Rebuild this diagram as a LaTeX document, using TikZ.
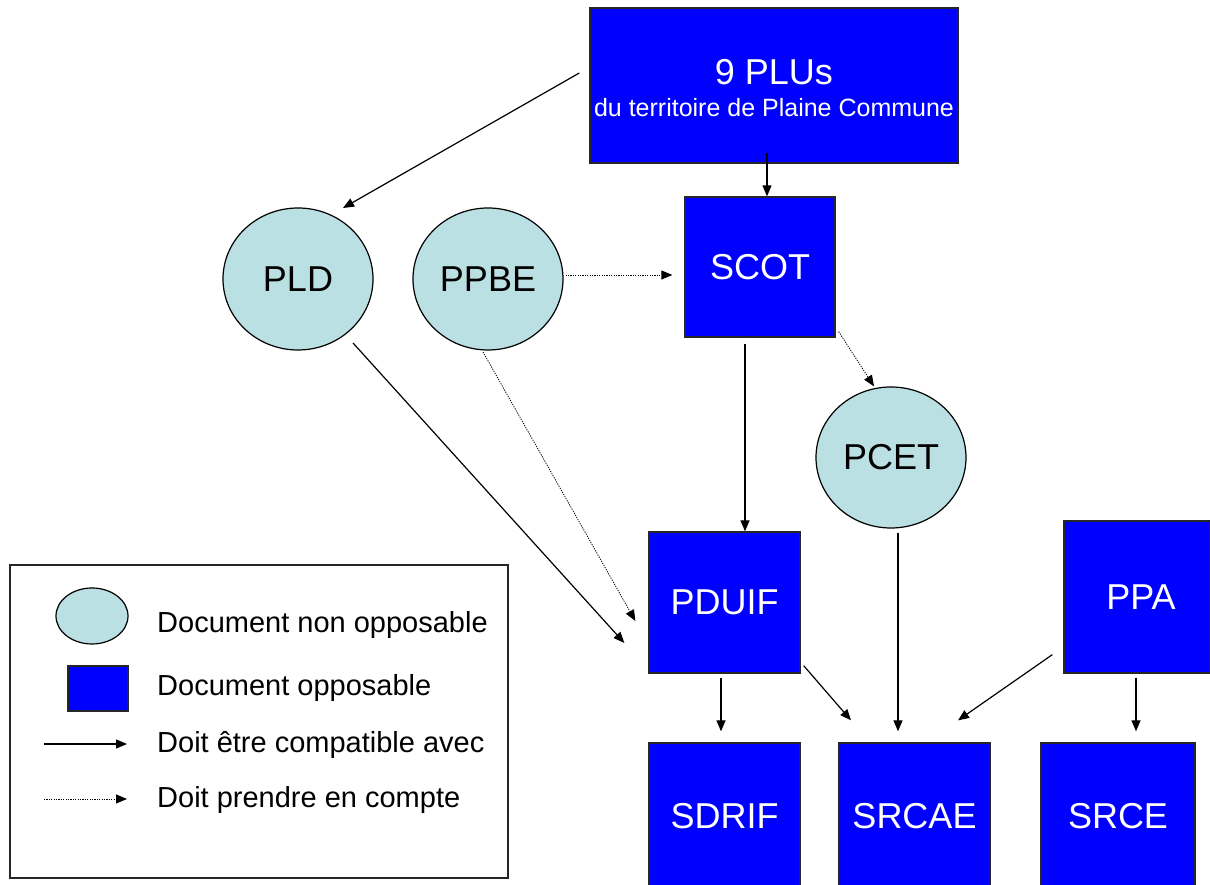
\documentclass[tikz,border=0pt]{standalone}
\usepackage{fontspec}
\setmainfont{Liberation Sans}
\usetikzlibrary{arrows.meta,shapes.geometric}
\definecolor{oppblue}{RGB}{0,0,255}
\definecolor{nonopp}{RGB}{187,224,227}
\begin{document}
\begin{tikzpicture}[x=1pt,y=1pt,
  oppbox/.style={draw=black!85,line width=1.3pt,fill=oppblue,text=white,inner sep=0pt,font=\fontsize{36}{40}\selectfont},
  nonell/.style={ellipse,draw=black,line width=1.2pt,fill=nonopp,inner sep=0pt,font=\fontsize{36}{40}\selectfont},
  arr/.style={line width=1.2pt,-{Triangle[length=11pt,width=9pt]}},
  darr/.style={line width=0.8pt,dash pattern=on 1.2pt off 1.2pt,-{Triangle[length=11pt,width=9pt]}},
  legtext/.style={anchor=base west,inner sep=0pt,font=\fontsize{29}{32}\selectfont}]
\useasboundingbox[fill=white] (0,0) rectangle (1210,885);
% main nodes
\node[oppbox,minimum width=368pt,minimum height=155pt,align=center] (plus) at (774,799.5)
  {\rule{0pt}{31pt}9 PLUs\\[-8pt]{\fontsize{25}{28}\selectfont du territoire de Plaine Commune}};
\node[oppbox,minimum width=150pt,minimum height=140pt] (scot) at (760,618) {SCOT};
\node[nonell,minimum width=150pt,minimum height=142pt] (pld) at (298,606) {PLD};
\node[nonell,minimum width=150pt,minimum height=142pt] (ppbe) at (488,606) {PPBE};
\node[nonell,minimum width=150pt,minimum height=141pt] (pcet) at (891,427.5) {PCET};
\node[oppbox,minimum width=151pt,minimum height=141pt] (pduif) at (724.5,282.5) {PDUIF};
\node[oppbox,minimum width=146pt,minimum height=152pt] (ppa) at (1137,288) {\hspace{8pt}PPA};
\node[oppbox,minimum width=151pt,minimum height=147pt] (sdrif) at (724.5,68.5) {SDRIF};
\node[oppbox,minimum width=151pt,minimum height=147pt] (srcae) at (914.5,68.5) {SRCAE};
\node[oppbox,minimum width=154pt,minimum height=147pt] (srce) at (1118,68.5) {SRCE};
% connectors
\draw[arr] ([shift={(-10pt,12.5pt)}]plus.west) -- ([shift={(45pt,71pt)}]pld.center);
\draw[arr] ([shift={(-7pt,11pt)}]plus.south) -- ([shift={(7pt,0pt)}]scot.north);
\draw[darr] ([shift={(2pt,4pt)}]ppbe.east) -- ([shift={(-12pt,-8pt)}]scot.west);
\draw[darr] ([shift={(3pt,6pt)}]scot.south east) -- ([shift={(-17pt,0pt)}]pcet.north);
\draw[arr] ([shift={(-15pt,-6pt)}]scot.south) -- ([shift={(20.5pt,0pt)}]pduif.north);
\draw[arr] ([shift={(55pt,-64pt)}]pld.center) -- ([shift={(-24pt,-40.5pt)}]pduif.west);
\draw[darr] ([shift={(-5pt,-73pt)}]ppbe.center) -- ([shift={(-13pt,-18.5pt)}]pduif.west);
\draw[arr] ([shift={(-3.5pt,-4pt)}]pduif.south) -- ([shift={(-3.5pt,11pt)}]sdrif.north);
\draw[arr] ([shift={(3pt,8pt)}]pduif.south east) -- ([shift={(-63.5pt,22pt)}]srcae.north);
\draw[arr] ([shift={(7pt,-4pt)}]pcet.south) -- ([shift={(-16.5pt,11pt)}]srcae.north);
\draw[arr] ([shift={(-11pt,19pt)}]ppa.south west) -- ([shift={(43.5pt,22pt)}]srcae.north);
\draw[arr] ([shift={(-1pt,-4pt)}]ppa.south) -- ([shift={(18pt,11pt)}]srce.north);
% legend
\node[draw=black!85,line width=1.3pt,minimum width=498pt,minimum height=313pt,inner sep=0pt] (legend) at (259,163.5) {};
\node[nonell,minimum width=72pt,minimum height=56pt] (legell) at (92,269) {};
\node[draw=black!85,line width=1.2pt,fill=oppblue,minimum width=60pt,minimum height=45pt,inner sep=0pt] (legbox) at (98,196.5) {};
\coordinate (ls1) at (44,141);
\coordinate (le1) at (127,141);
\coordinate (ls2) at (44,86);
\coordinate (le2) at (127,86);
\draw[arr] (ls1) -- (le1);
\draw[darr] (ls2) -- (le2);
\node[legtext] (t1) at (157,252) {Document non opposable};
\node[legtext] (t2) at (157,189) {Document opposable};
\node[legtext] (t3) at (157,132) {Doit être compatible avec};
\node[legtext] (t4) at (157,77) {Doit prendre en compte};
\end{tikzpicture}
\end{document}
